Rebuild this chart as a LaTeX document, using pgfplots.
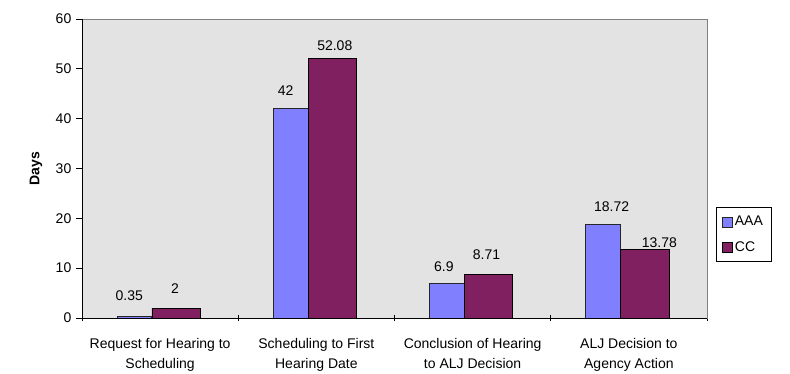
\documentclass[border=0pt]{standalone}
\usepackage{fontspec}
\setmainfont{Liberation Sans}
\usepackage{pgfplots}
\pgfplotsset{compat=1.18}
\usepackage{pgfplotstable}
\definecolor{aaa}{HTML}{8080FF}
\definecolor{cc}{HTML}{802060}
\definecolor{plotbg}{HTML}{E3E3E3}

% dx: horizontal offset of the value label centre from the category centre (bp)
% dy: height of the label baseline above the bar top (bp)
\pgfplotstableread{
x y dx dy
0 0.35 -30.8 16
1 42 -30.8 12.7
2 6.9 -28.8 12.6
3 18.72 -17.3 13
}\aaadata
\pgfplotstableread{
x y dx dy
0 2 14.9 15
1 52.08 18.4 7.5
2 8.71 13.9 14.6
3 13.78 30.5 2
}\ccdata

\newcommand{\lblfont}{\fontsize{14bp}{20bp}\selectfont}

\begin{document}
\begin{tikzpicture}
\path[use as bounding box] (-82bp,-56bp) rectangle (708bp,318bp);
\begin{axis}[
  at={(0,0)}, anchor=south west,
  scale only axis, width=625bp, height=299bp,
  xmin=-0.5, xmax=3.5, ymin=0, ymax=60,
  axis background/.style={fill=plotbg},
  axis line style={draw=gray, line width=0.8bp},
  /pgf/number format/assume math mode=true,
  tick pos=left,
  ytick={0,10,...,60},
  xtick={-0.5,0.5,...,3.5}, xticklabels={},
  xtick align=center, ytick align=outside,
  major tick length=6bp,
  tick style={black, line width=0.8bp},
  extra x ticks={0,1,2,3},
  extra x tick labels={{Request for Hearing to\\Scheduling},{Scheduling to First\\Hearing Date},{Conclusion of Hearing\\to ALJ Decision},{ALJ Decision to\\Agency Action}},
  extra x tick style={major tick length=0pt},
  xticklabel style={font=\lblfont, align=center, anchor=north, inner sep=0pt, yshift=-20bp},
  yticklabel style={font=\lblfont, anchor=east, inner sep=0pt, xshift=-4.5bp},
  ylabel={Days},
  ylabel style={font=\lblfont\bfseries, at={(axis description cs:-0.0736,0.5)}, anchor=center},
  legend style={at={(axis description cs:1.0144,0.371)}, anchor=north west, draw=black, line width=0.6bp, fill=white, font=\lblfont, inner xsep=6bp, inner ysep=7bp, row sep=10bp, cells={anchor=west}},
  legend image code/.code={\draw[#1, line width=0.6bp] (0bp,-5bp) rectangle (10bp,5bp);},
  after end axis/.code={\draw[black, line width=0.8bp] (rel axis cs:0,1) -- (rel axis cs:0,0) -- (rel axis cs:1,0);},
  labelplot/.style={forget plot, only marks, mark=*, mark size=0pt, mark options={draw=none, fill=none},
    nodes near coords, point meta=explicit symbolic,
    every node near coord/.style={font=\lblfont, text=black, anchor=base, inner sep=0pt}},
]
\addplot[ybar, bar width=0.222, bar shift=-0.165, fill=aaa, draw=black!85, line width=0.6bp]
  table[x=x, y=y] {\aaadata};
\addlegendentry{AAA}
\addplot[ybar, bar width=0.309, bar shift=0.102, fill=cc, draw=black, line width=0.6bp]
  table[x=x, y=y] {\ccdata};
\addlegendentry{CC}
% value labels
\addplot[labelplot] table[x expr=\thisrow{x}+\thisrow{dx}/156.25, y expr=\thisrow{y}+\thisrow{dy}*60/299, meta=y] {\aaadata};
\addplot[labelplot] table[x expr=\thisrow{x}+\thisrow{dx}/156.25, y expr=\thisrow{y}+\thisrow{dy}*60/299, meta=y] {\ccdata};
\end{axis}
\end{tikzpicture}
\end{document}
